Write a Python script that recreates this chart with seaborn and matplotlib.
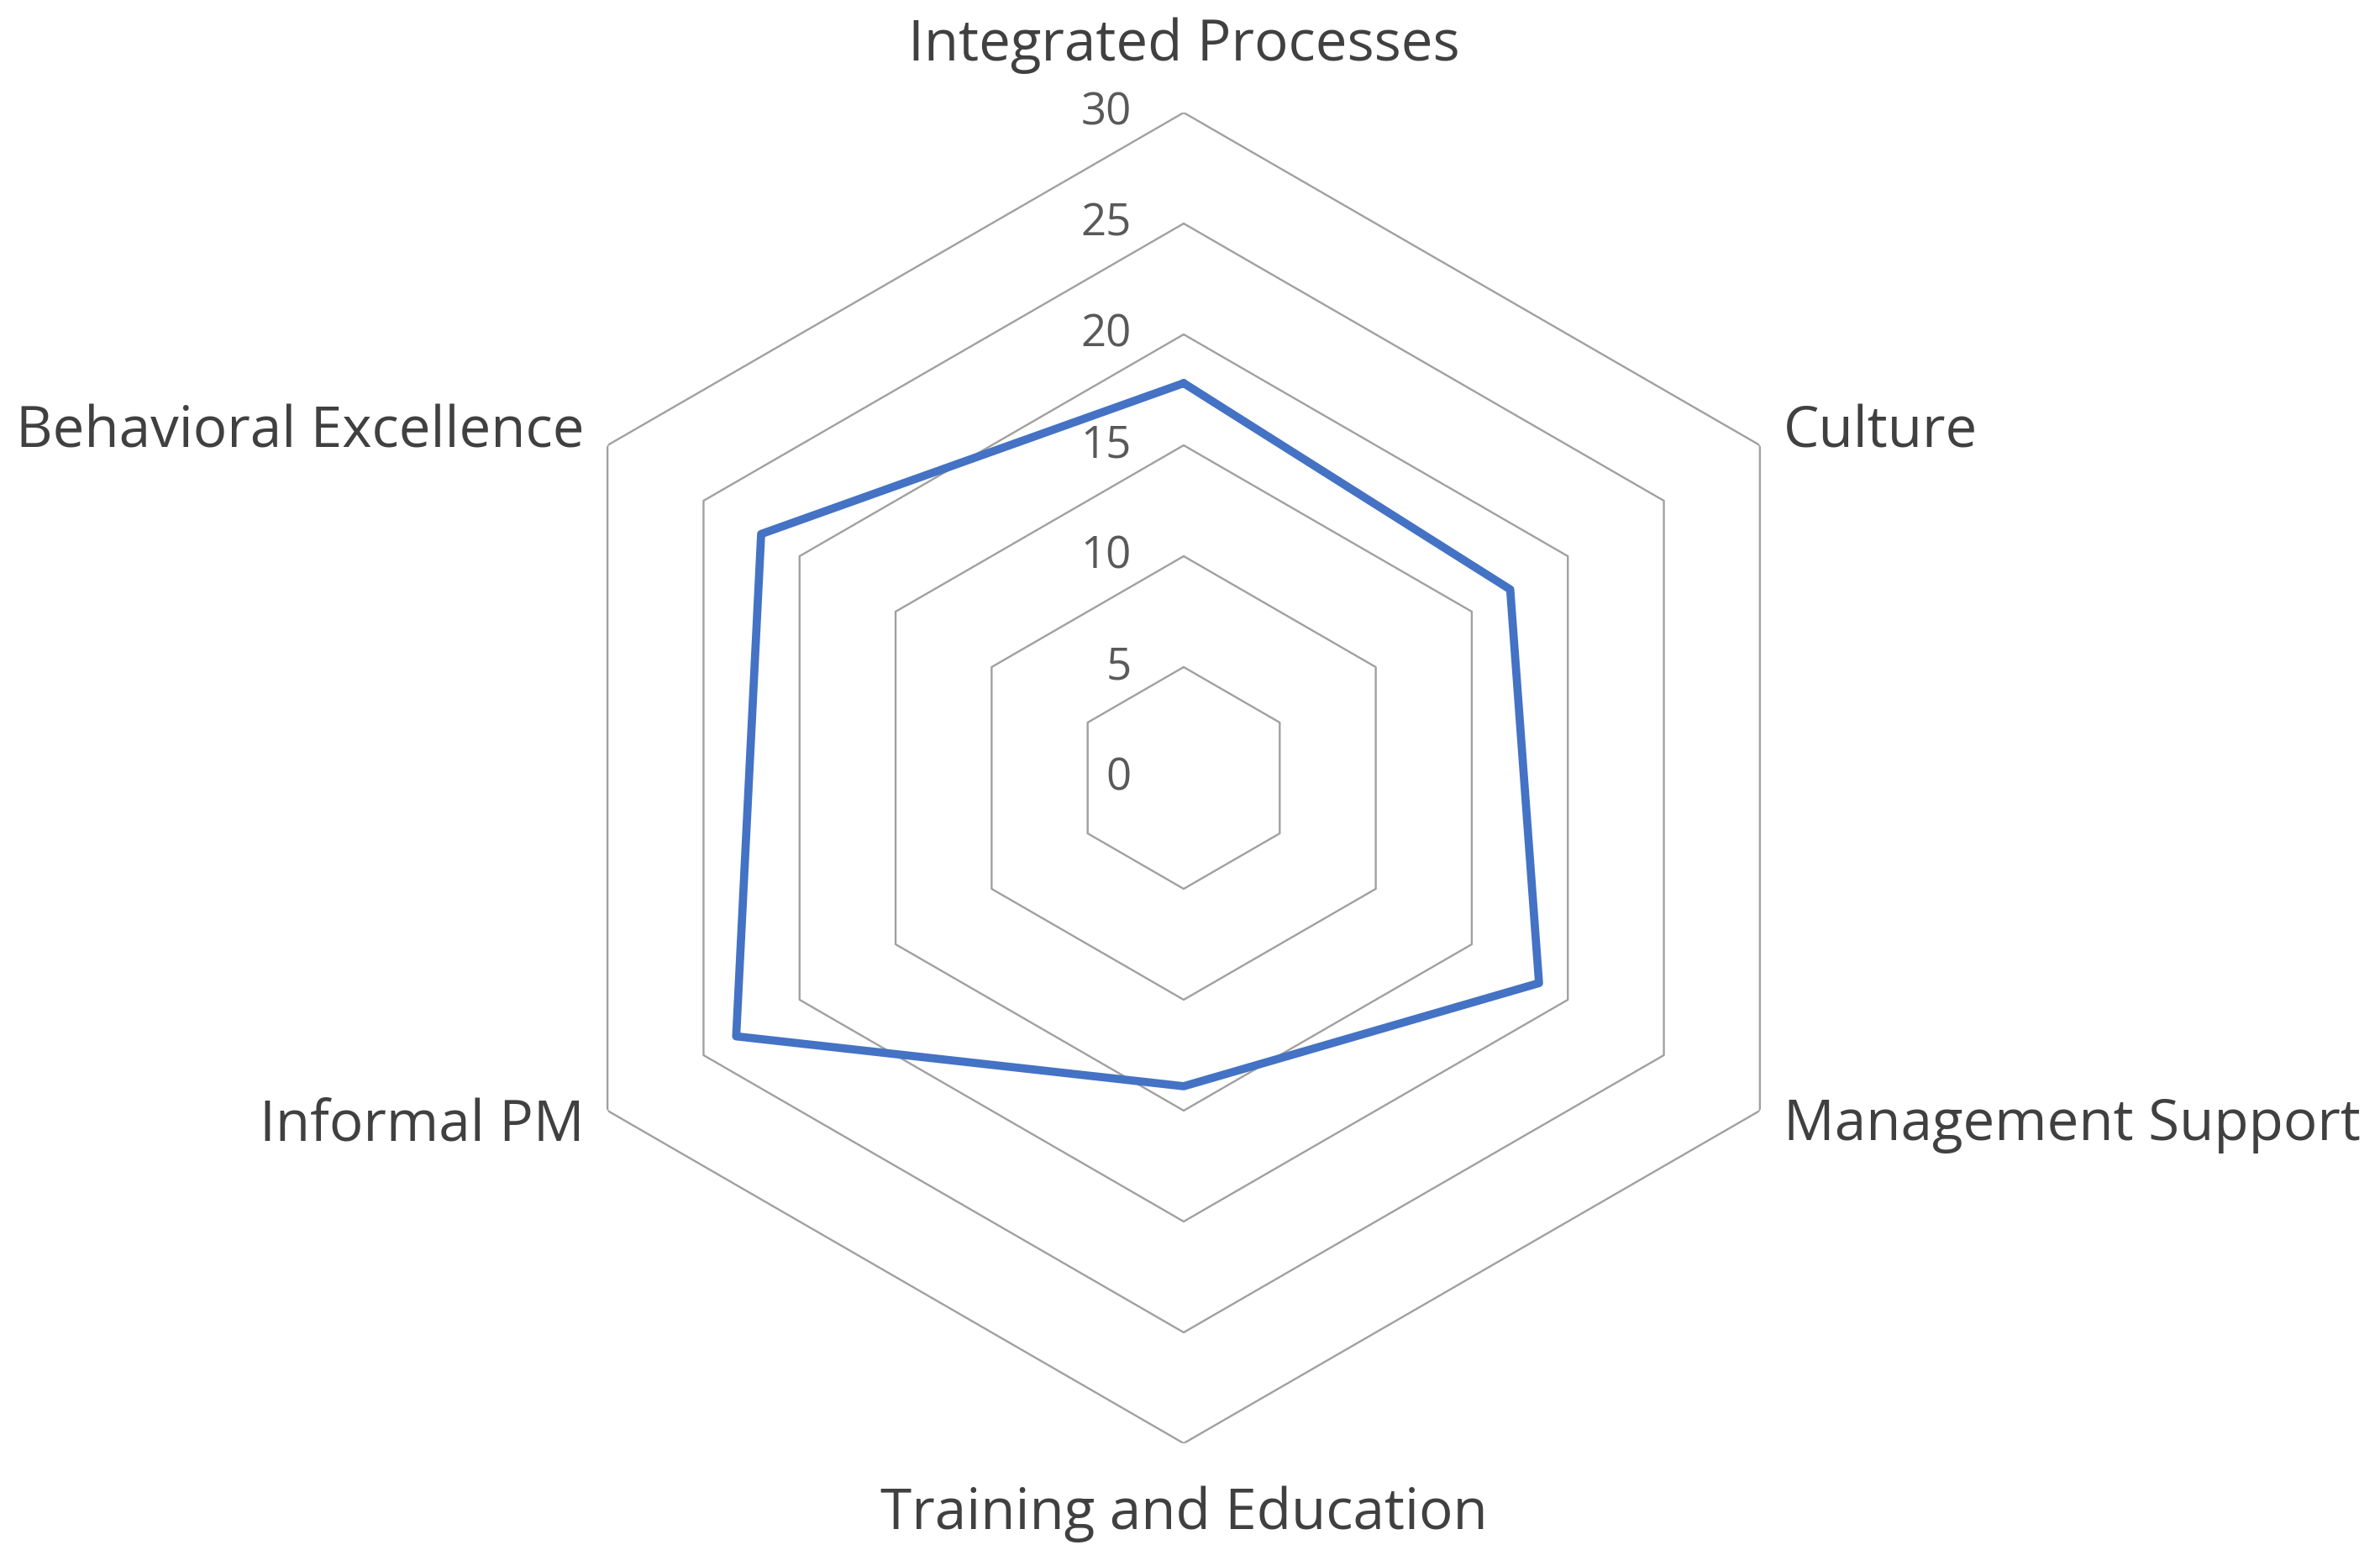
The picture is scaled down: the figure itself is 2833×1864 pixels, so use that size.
import numpy as np
import pandas as pd
import matplotlib
matplotlib.use("Agg")
import matplotlib.pyplot as plt
import seaborn as sns

CATEGORIES = ["Integrated Processes", "Culture", "Management Support",
              "Training and Education", "Informal PM", "Behavioral Excellence"]
SCORES = [17.8, 17.0, 18.5, 13.9, 23.3, 22.0]
RINGS = [5, 10, 15, 20, 25, 30]
TICK_LABELS = ["0", "5", "10", "15", "20", "25", "30"]

LINE_BLUE = "#4472C4"
GRID_GRAY = "#a0a0a0"
TEXT_DARK = "#404040"
TEXT_TICK = "#595959"


def main():
    sns.set_theme(style="white")
    plt.rcParams["font.family"] = ["Open Sans", "DejaVu Sans"]

    n = len(CATEGORIES)
    angles = np.linspace(0, 2 * np.pi, n, endpoint=False)
    closed = np.append(angles, angles[0])

    fig = plt.figure(figsize=(28.33, 18.65), dpi=100)
    ax = fig.add_axes([0.2178, 0.0783, 0.5591, 0.8493], projection="polar")
    ax.set_theta_offset(np.pi / 2)
    ax.set_theta_direction(-1)
    ax.set_ylim(0, 30)
    ax.grid(False)
    ax.spines["polar"].set_visible(False)
    ax.set_xticks([])
    ax.set_yticks([])
    ax.set_facecolor("none")

    # hexagonal rings
    for r in RINGS:
        ax.plot(closed, [r] * (n + 1), color=GRID_GRAY, lw=1.7, zorder=1)

    # last point repeats the first to close the shape, so no aggregation
    df = pd.DataFrame({"theta": closed, "score": SCORES + SCORES[:1]})
    sns.lineplot(data=df, x="theta", y="score", sort=False, estimator=None,
                 ax=ax, color=LINE_BLUE, lw=7, zorder=3)
    ax.set_xlabel("")
    ax.set_ylabel("")

    # value labels along top axis
    for i, lab in enumerate(TICK_LABELS):
        ax.annotate(lab, xy=(0, i * 5), xytext=(-45, 0), textcoords="offset points",
                    ha="right", va="center", fontsize=38, color=TEXT_TICK)

    # category labels
    offsets = [(0, 58, "center", "center"), (20, 12, "left", "center"),
               (20, -12, "left", "center"), (0, -60, "center", "center"),
               (-20, -12, "right", "center"), (-20, 12, "right", "center")]
    for ang, lab, (dx, dy, ha, va) in zip(angles, CATEGORIES, offsets):
        ax.annotate(lab, xy=(ang, 30), xytext=(dx, dy), textcoords="offset points",
                    ha=ha, va=va, fontsize=48.5, color=TEXT_DARK)

    fig.savefig("out.png", dpi=100, facecolor="white")
    plt.close(fig)


if __name__ == "__main__":
    main()
